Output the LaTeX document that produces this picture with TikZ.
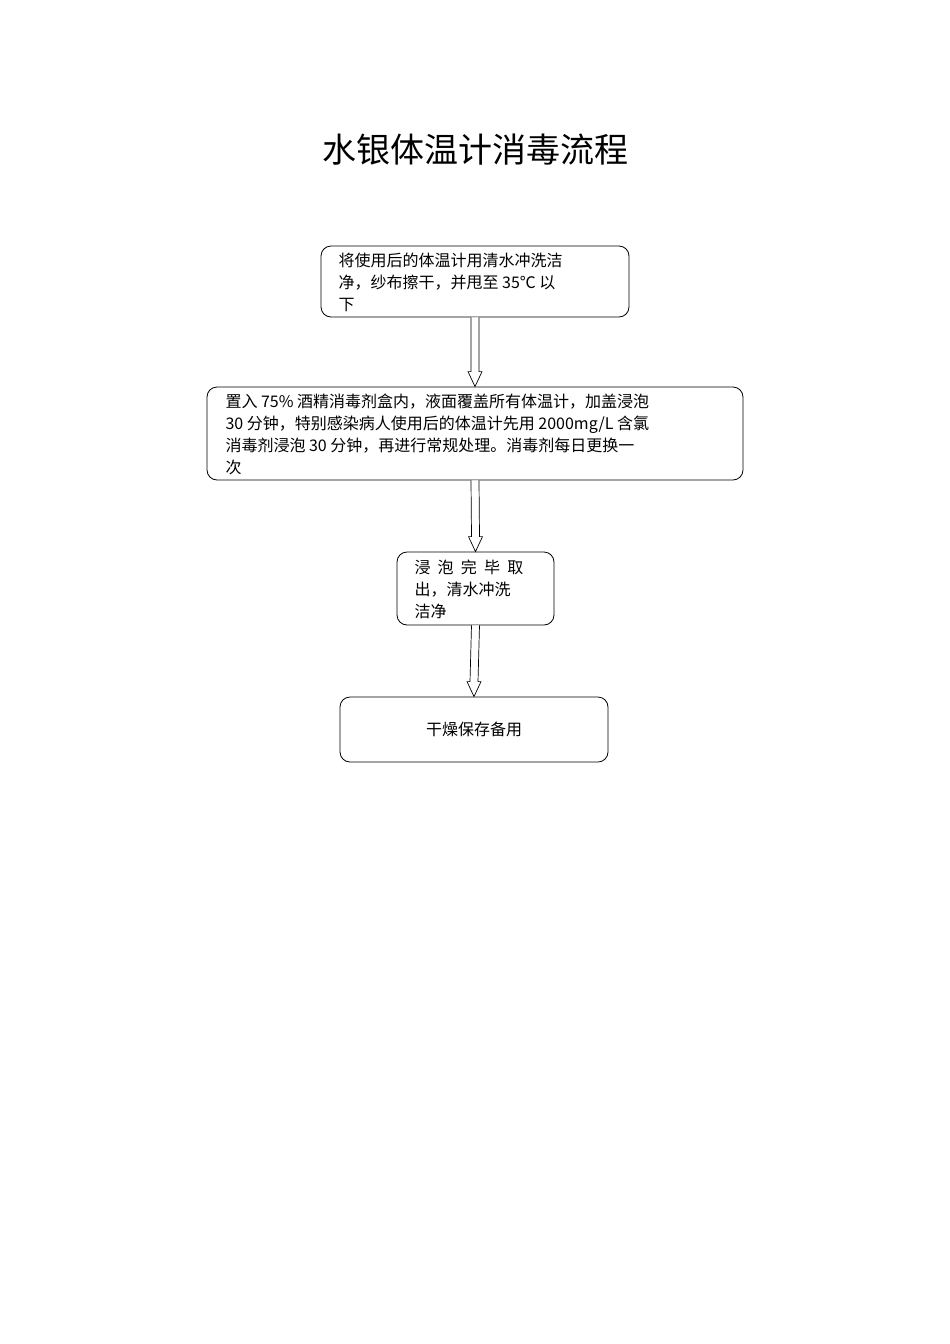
\documentclass[tikz,border=0pt]{standalone}
\usepackage{fontspec}
\setmainfont{Noto Sans CJK SC}
\usetikzlibrary{calc}
\begin{document}
\begin{tikzpicture}[x=1pt,y=1pt,
  box/.style={draw,rounded corners=10pt,line width=0.8pt,inner sep=0pt},
  txt/.style={align=left,font=\fontsize{16}{22}\selectfont,anchor=north west}]
\useasboundingbox (0,0) rectangle (950,-1344);
\node (title) at (475,-150) {\fontsize{34}{40}\selectfont 水银体温计消毒流程};
\node[box,minimum width=308pt,minimum height=71pt] (b1) at (475,-281.5) {};
\node[txt] (t1) at (335,-249) {将使用后的体温计用清水冲洗洁\\净，纱布擦干，并甩至 35℃ 以\\下};
\node[box,minimum width=536pt,minimum height=93pt] (b2) at (475,-433.5) {};
\node[txt] (t2) at (222,-390) {置入 75\% 酒精消毒剂盒内，液面覆盖所有体温计，加盖浸泡\\30 分钟，特别感染病人使用后的体温计先用 2000mg/L 含氯\\消毒剂浸泡 30 分钟，再进行常规处理。消毒剂每日更换一\\次};
\node[box,minimum width=157pt,minimum height=73pt] (b3) at (475.5,-588.5) {};
\node[txt] (t3) at (411,-556) {浸\hspace{0.45em}泡\hspace{0.45em}完\hspace{0.45em}毕\hspace{0.45em}取\\出，清水冲洗\\洁净};
\node[box,minimum width=268pt,minimum height=65pt] (b4) at (474,-729.5) {};
\node[font=\fontsize{16}{22}\selectfont] (t4) at (b4.center) {干燥保存备用};
\foreach \a/\b in {b1/b2,b2/b3,b3/b4}{
  \draw[line width=0.7pt,fill=white]
    ($(\a.south)+(-4,0)$) -- ($(\b.north)+(-4,15)$) -- ($(\b.north)+(-7,15)$) -- (\b.north)
    -- ($(\b.north)+(7,15)$) -- ($(\b.north)+(4,15)$) -- ($(\a.south)+(4,0)$);
}
\end{tikzpicture}
\end{document}
